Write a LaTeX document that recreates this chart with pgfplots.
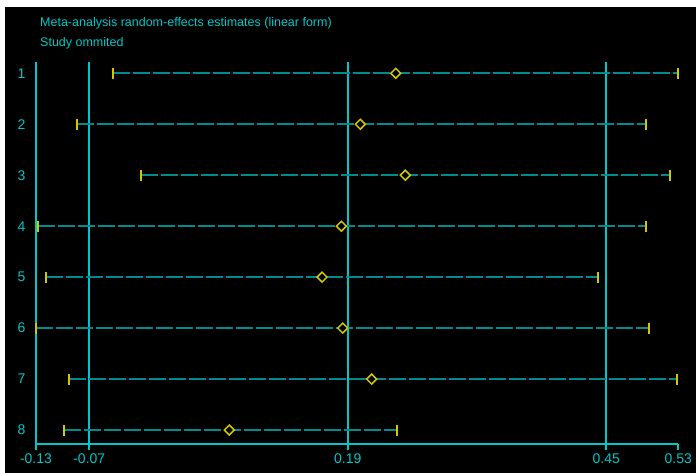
\documentclass[border=0pt]{standalone}
\usepackage{fontspec}
\setmainfont{Liberation Sans}
\usepackage{pgfplots}
\usepackage{pgfplotstable}
\pgfplotsset{compat=1.18}
\definecolor{cy}{RGB}{0,200,200}
\definecolor{cyd}{RGB}{0,140,140}
\definecolor{yl}{RGB}{210,200,0}
\pgfplotstableread{
row L E U
1 -0.0459 0.2382 0.5224
2 -0.0827 0.2026 0.4902
3 -0.0183 0.2478 0.5144
4 -0.1216 0.1835 0.4902
5 -0.1136 0.1641 0.4420
6 -0.1233 0.1849 0.4933
7 -0.0907 0.2140 0.5208
8 -0.0957 0.0708 0.2392
}\data
\begin{document}
\begin{tikzpicture}
\fill[white] (0pt,0pt) rectangle (696pt,473pt);
\fill[black] (5pt,0pt) rectangle (696pt,466pt);
\node[anchor=base west, text=cy, font=\fontsize{12.5}{14}\selectfont, inner sep=0pt] at (40pt,446.3pt) {Meta-analysis random-effects estimates (linear form)};
\node[anchor=base west, text=cy, font=\fontsize{12.5}{14}\selectfont, inner sep=0pt] at (40pt,426.3pt) {Study ommited};
\begin{axis}[at={(36pt,28.7pt)}, anchor=south west, scale only axis,
  width=642.3pt, height=382.6pt,
  xmin=-0.1236, xmax=0.5224, ymin=0.772, ymax=8.28, y dir=reverse,
  clip=false,
  axis line style={draw=none},
  /pgf/number format/assume math mode=true,
  xtick={-0.1236,-0.07,0.19,0.45,0.5224},
  xticklabels={-0.13,-0.07,0.19,0.45,0.53},
  xtick pos=bottom, tick align=outside,
  x tick style={cy, line width=2pt}, major tick length=6pt,
  ytick={1,2,3,4,5,6,7,8},
  yticklabels={1,2,3,4,5,6,7,8},
  y tick style={draw=none},
  yticklabel style={anchor=center, xshift=-8.5pt},
  ticklabel style={font=\fontsize{14}{16}\selectfont, text=cy},
]
% vertical reference lines
\addplot[cy, line width=2pt] coordinates {(-0.1236,0.772) (-0.1236,8.28)};
\addplot[cy, line width=2pt] coordinates {(-0.07,0.772) (-0.07,8.28)};
\addplot[cy, line width=2pt] coordinates {(0.19,0.772) (0.19,8.28)};
\addplot[cy, line width=2pt] coordinates {(0.45,0.772) (0.45,8.28)};
\addplot[cy, line width=2pt] coordinates {(-0.1236,8.28) (0.5224,8.28)};
% CI lines
\pgfplotsset{cil/.style={cyd, line width=2pt, dash pattern=on 17pt off 3pt}}
\addplot[cil] coordinates {(-0.0459,1) (0.5224,1)};
\addplot[cil] coordinates {(-0.0827,2) (0.4902,2)};
\addplot[cil] coordinates {(-0.0183,3) (0.5144,3)};
\addplot[cil] coordinates {(-0.1216,4) (0.4902,4)};
\addplot[cil] coordinates {(-0.1136,5) (0.4420,5)};
\addplot[cil] coordinates {(-0.1233,6) (0.4933,6)};
\addplot[cil] coordinates {(-0.0907,7) (0.5208,7)};
\addplot[cil] coordinates {(-0.0957,8) (0.2392,8)};
% end ticks
\addplot[only marks, mark=|, mark size=5.5pt, mark options={yl, line width=2pt}] table[x=L, y=row] {\data};
\addplot[only marks, mark=|, mark size=5.5pt, mark options={yl, line width=2pt}] table[x=U, y=row] {\data};
% estimates
\addplot[only marks, mark=square*, mark size=3.5pt, mark options={rotate=45, draw=yl, fill=black, line width=1.5pt}] table[x=E, y=row] {\data};
\end{axis}
\end{tikzpicture}
\end{document}
